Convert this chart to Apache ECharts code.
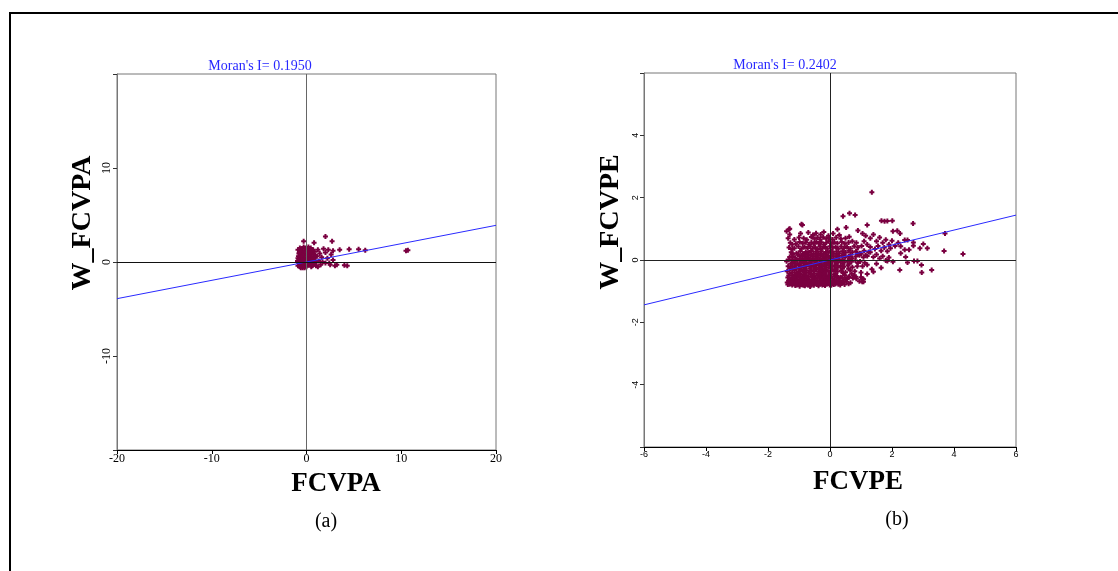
<!DOCTYPE html>
<html>
<head>
<meta charset="utf-8">
<script src="https://cdn.jsdelivr.net/npm/echarts@6/dist/echarts.min.js"></script>
<style>
  html, body { margin: 0; padding: 0; background: #fff; }
  #chart { width: 1118px; height: 571px; }
</style>
</head>
<body>
<div id="chart"></div>
<script>
// (a) FCVPA vs spatial lag
const pointsA = [
  [-0.9,-0.4],[-0.8,0.2],[-0.7,-0.5],[-0.6,0.8],[-0.5,-0.2],[-0.4,1.2],[-0.3,0.4],[-0.2,-0.6],[-0.1,1.5],[0,0.0],
  [0.1,0.9],[0.2,-0.3],[0.3,1.3],[0.4,0.5],[0.5,-0.5],[0.6,1.0],[0.7,0.2],[0.8,-0.2],[0.9,0.7],[1.0,-0.4],
  [-0.85,0.6],[-0.75,1.0],[-0.65,0.1],[-0.55,1.4],[-0.45,0.3],[-0.35,-0.4],[-0.25,0.9],[-0.15,0.2],[-0.05,-0.3],[0.05,1.2],
  [0.15,0.5],[0.25,-0.1],[0.35,0.8],[0.45,1.5],[0.55,0.3],[0.65,-0.1],[0.75,0.6],[0.85,1.1],[0.95,0.1],
  [-0.9,1.3],[-0.8,-0.1],[-0.7,0.5],[-0.6,-0.3],[-0.5,0.6],[-0.4,0.0],[-0.3,1.6],[-0.2,0.7],[-0.1,0.3],[0,-0.5],
  [0.1,0.4],[0.2,1.0],[0.3,-0.2],[0.4,0.0],[0.5,0.9],[0.6,0.4],[0.7,1.3],[0.8,0.4],[0.9,-0.1],
  [-0.95,0.1],[-0.6,1.1],[-0.3,-0.1],[0.0,0.7],[0.3,0.2],[0.6,-0.4],[-0.7,1.5],[0.2,1.6],[-0.4,-0.6],[0.5,1.3],
  [-0.8,0.9],[-0.5,0.2],[-0.2,1.1],[0.1,-0.1],[0.4,1.0],[0.7,-0.3],[-0.6,-0.6],[0.0,1.3],[0.8,0.8],[-0.9,0.4],
  [1.2,1.3],[1.4,0.9],[1.6,0.5],[1.3,0.1],[1.5,-0.3],[1.8,1.4],[2.0,1.0],[2.2,0.4],[2.0,-0.1],[2.3,1.3],
  [2.6,0.8],[2.5,-0.3],[2.8,0.2],[3.0,-0.4],[3.2,-0.3],[2.8,1.2],[1.1,0.6],[1.7,0.0],[2.4,-0.1],[1.2,-0.5],
  [2.0,2.7],[2.7,2.2],[0.8,2.05],[-0.3,2.2],[3.5,1.3],[4.5,1.35],[5.5,1.35],[6.2,1.25],[10.5,1.2],[10.7,1.25],
  [4.0,-0.35],[4.3,-0.4]
];
const fitA = [[-20, -3.9], [20, 3.9]];
const ticksA = [-20, -10, 0, 10, 20];

// (b) FCVPE vs spatial lag
const pointsB = [
  // lower band
  [-1.38,-0.72],[-1.33,-0.66],[-1.3,-0.78],[-1.27,-0.7],[-1.24,-0.62],[-1.22,-0.8],[-1.18,-0.74],[-1.15,-0.67],[-1.12,-0.82],[-1.1,-0.71],
  [-1.07,-0.64],[-1.04,-0.77],[-1.01,-0.69],[-0.98,-0.84],[-0.95,-0.73],[-0.92,-0.63],[-0.9,-0.79],[-0.87,-0.7],[-0.84,-0.66],[-0.81,-0.83],
  [-0.78,-0.75],[-0.75,-0.68],[-0.72,-0.8],[-0.7,-0.62],[-0.67,-0.72],[-0.64,-0.85],[-0.61,-0.69],[-0.58,-0.77],[-0.55,-0.64],[-0.52,-0.81],
  [-0.49,-0.73],[-0.46,-0.67],[-0.43,-0.79],[-0.4,-0.7],[-0.37,-0.83],[-0.34,-0.65],[-0.31,-0.76],[-0.28,-0.71],[-0.25,-0.8],[-0.22,-0.66],
  [-0.19,-0.74],[-0.16,-0.82],[-0.13,-0.69],[-0.1,-0.77],[-0.07,-0.63],[-0.04,-0.72],[-0.01,-0.8],[0.02,-0.68],[0.05,-0.76],[0.08,-0.71],
  [0.12,-0.79],[0.15,-0.65],[0.19,-0.74],[0.23,-0.7],[0.27,-0.78],[0.31,-0.67],[0.36,-0.75],[0.41,-0.72],[0.47,-0.79],[0.53,-0.7],
  [0.6,-0.76],[0.66,-0.73],
  [-1.36,-0.79],[-1.31,-0.7],[-1.26,-0.75],[-1.2,-0.68],[-1.14,-0.76],[-1.08,-0.8],[-1.03,-0.72],[-0.97,-0.67],[-0.93,-0.76],[-0.86,-0.81],
  [-0.8,-0.7],[-0.74,-0.77],[-0.68,-0.66],[-0.62,-0.8],[-0.56,-0.72],[-0.5,-0.68],[-0.44,-0.75],[-0.38,-0.78],[-0.32,-0.69],[-0.26,-0.74],
  [-0.2,-0.79],[-0.14,-0.73],[-0.08,-0.68],[-0.02,-0.75],[0.04,-0.81],[0.1,-0.69],[0.17,-0.77],[0.25,-0.73],[0.33,-0.8],[0.44,-0.68],
  // vertical streaks
  [-1.22,0.2],[-1.21,0.1],[-1.22,0.0],[-1.21,-0.1],[-1.22,-0.2],[-1.21,-0.3],[-1.22,-0.4],[-1.21,-0.5],[-1.22,-0.58],[-1.21,0.35],[-1.22,0.5],
  [-0.82,-0.2],[-0.83,-0.3],[-0.82,-0.4],[-0.83,-0.5],[-0.82,-0.58],[-0.83,-0.1],[-0.82,0.05],
  [-0.26,-0.3],[-0.25,-0.4],[-0.26,-0.5],[-0.25,-0.58],[-0.26,-0.2],
  // main body
  [-1.3,0.82],[-0.95,0.85],[-0.7,0.88],[-0.55,0.8],[-0.45,0.86],[-0.3,0.82],[-0.2,0.9],[-0.05,0.78],[0.1,0.85],[0.3,0.8],
  [-1.35,0.7],[-1.15,0.66],[-1.0,0.72],[-0.85,0.7],[-0.75,0.65],[-0.6,0.74],[-0.5,0.68],[-0.4,0.72],[-0.32,0.66],[-0.22,0.73],
  [-0.12,0.68],[-0.03,0.71],[0.08,0.66],[0.2,0.72],[0.35,0.68],[0.5,0.7],[0.62,0.75],
  [-1.28,0.55],[-1.1,0.52],[-0.98,0.58],[-0.88,0.53],[-0.78,0.57],[-0.68,0.5],[-0.6,0.56],[-0.52,0.52],[-0.44,0.58],[-0.36,0.53],
  [-0.28,0.57],[-0.2,0.5],[-0.12,0.55],[-0.04,0.6],[0.05,0.52],[0.14,0.57],[0.24,0.54],[0.38,0.58],[0.48,0.52],[0.6,0.56],[0.72,0.6],[0.85,0.55],
  [-1.32,0.4],[-1.15,0.38],[-1.02,0.43],[-0.92,0.36],[-0.82,0.42],[-0.72,0.38],[-0.64,0.44],[-0.56,0.37],[-0.48,0.41],[-0.4,0.35],
  [-0.32,0.43],[-0.24,0.38],[-0.16,0.42],[-0.08,0.36],[0.0,0.44],[0.09,0.39],[0.18,0.42],[0.27,0.36],[0.36,0.43],[0.45,0.38],
  [0.55,0.42],[0.66,0.37],[0.78,0.44],[0.9,0.4],[1.02,0.45],
  [-1.25,0.25],[-1.08,0.22],[-0.96,0.28],[-0.87,0.2],[-0.78,0.26],[-0.69,0.23],[-0.61,0.29],[-0.53,0.21],[-0.45,0.27],[-0.37,0.22],
  [-0.29,0.28],[-0.21,0.2],[-0.13,0.26],[-0.05,0.23],[0.04,0.29],[0.12,0.21],[0.21,0.27],[0.3,0.22],[0.4,0.28],[0.5,0.24],
  [0.61,0.3],[0.72,0.25],[0.84,0.28],[0.96,0.22],[1.1,0.3],[1.25,0.26],
  [-1.3,0.1],[-1.12,0.07],[-0.99,0.13],[-0.9,0.05],[-0.8,0.11],[-0.71,0.08],[-0.63,0.14],[-0.55,0.06],[-0.47,0.12],[-0.39,0.08],
  [-0.31,0.14],[-0.23,0.05],[-0.15,0.1],[-0.06,0.07],[0.03,0.13],[0.11,0.06],[0.2,0.12],[0.29,0.08],[0.39,0.14],[0.49,0.09],
  [0.6,0.12],[0.71,0.06],[0.83,0.11],[0.95,0.15],[1.08,0.09],[1.2,0.13],
  [-1.4,-0.04],[-1.18,-0.06],[-1.05,-0.02],[-0.94,-0.08],[-0.85,-0.03],[-0.76,-0.07],[-0.67,-0.01],[-0.59,-0.06],[-0.5,-0.03],[-0.42,-0.08],
  [-0.34,-0.02],[-0.27,-0.06],[-0.18,-0.04],[-0.1,-0.08],[-0.02,-0.03],[0.07,-0.06],[0.16,-0.02],[0.25,-0.07],[0.35,-0.04],[0.46,-0.08],
  [0.57,-0.03],[0.69,-0.06],[0.82,-0.02],[0.97,-0.05],[1.12,-0.09],
  [-1.35,-0.2],[-1.15,-0.22],[-1.02,-0.17],[-0.93,-0.23],[-0.86,-0.18],[-0.77,-0.21],[-0.68,-0.16],[-0.6,-0.22],[-0.52,-0.19],[-0.44,-0.24],
  [-0.36,-0.17],[-0.3,-0.21],[-0.19,-0.18],[-0.11,-0.23],[-0.03,-0.17],[0.06,-0.21],[0.15,-0.18],[0.24,-0.24],[0.34,-0.19],[0.45,-0.22],
  [0.58,-0.17],[0.72,-0.23],[0.88,-0.2],
  [-1.38,-0.36],[-1.14,-0.33],[-1.02,-0.38],[-0.94,-0.32],[-0.86,-0.37],[-0.76,-0.34],[-0.68,-0.39],[-0.6,-0.33],[-0.53,-0.36],[-0.45,-0.31],
  [-0.37,-0.38],[-0.29,-0.34],[-0.2,-0.37],[-0.12,-0.32],[-0.04,-0.38],[0.05,-0.35],[0.14,-0.31],[0.24,-0.37],[0.36,-0.34],[0.5,-0.39],
  [0.65,-0.33],[0.8,-0.36],
  [-1.33,-0.5],[-1.14,-0.48],[-1.04,-0.53],[-0.95,-0.47],[-0.87,-0.52],[-0.78,-0.49],[-0.7,-0.54],[-0.62,-0.47],[-0.54,-0.51],[-0.46,-0.55],
  [-0.38,-0.48],[-0.3,-0.52],[-0.21,-0.46],[-0.13,-0.53],[-0.05,-0.49],[0.04,-0.54],[0.13,-0.47],[0.23,-0.51],[0.35,-0.55],[0.48,-0.49],
  [0.62,-0.53],[0.78,-0.5],[1.0,-0.55],
  [-1.3,-0.6],[-1.1,-0.58],[-0.9,-0.61],[-0.72,-0.59],[-0.48,-0.6],[-0.3,-0.58],[-0.1,-0.61],[0.08,-0.59],[0.28,-0.6],[0.5,-0.62],
  [0.74,-0.58],[1.05,-0.6],[1.08,-0.7],
  // in-between rows (lower, denser part)
  [-1.2,0.17],[-1.03,0.18],[-0.88,0.16],[-0.74,0.18],[-0.59,0.16],[-0.43,0.18],[-0.27,0.17],[-0.11,0.16],[0.07,0.18],[0.25,0.16],[0.45,0.18],[0.66,0.17],[0.9,0.18],
  [-1.33,0.02],[-1.1,0.01],[-0.96,0.03],[-0.81,0.02],[-0.64,0.01],[-0.47,0.03],[-0.3,0.02],[-0.13,0.01],[0.04,0.03],[0.22,0.01],[0.41,0.02],[0.63,0.03],
  [-1.27,-0.12],[-1.1,-0.13],[-0.97,-0.11],[-0.79,-0.13],[-0.63,-0.12],[-0.47,-0.11],[-0.31,-0.13],[-0.15,-0.12],[0.02,-0.11],[0.2,-0.13],[0.4,-0.12],[0.62,-0.12],
  [-1.29,-0.27],[-1.09,-0.28],[-0.97,-0.26],[-0.8,-0.28],[-0.64,-0.27],[-0.48,-0.26],[-0.33,-0.28],[-0.16,-0.27],[0.01,-0.26],[0.19,-0.28],[0.4,-0.27],[0.6,-0.28],
  [-1.3,-0.43],[-1.08,-0.42],[-0.98,-0.44],[-0.8,-0.43],[-0.65,-0.42],[-0.5,-0.44],[-0.34,-0.43],[-0.17,-0.42],[0.0,-0.44],[0.18,-0.43],[0.42,-0.42],[0.7,-0.44],
  [-1.36,-0.56],[-1.17,-0.57],[-0.99,-0.56],[-0.76,-0.57],[-0.58,-0.56],[-0.4,-0.57],[-0.18,-0.56],[0.0,-0.57],[0.2,-0.56],[0.4,-0.57],[0.6,-0.56],
  [-1.3,1.0],[-1.4,0.92],[-0.89,1.12],[-0.92,1.15],[-1.32,0.99],
  // right side, sparser
  [0.24,0.99],[0.52,1.04],[0.42,1.4],[0.63,1.5],[0.81,1.44],[1.2,1.12],[1.35,2.17],[0.9,0.95],[1.05,0.85],[1.15,0.78],
  [1.3,0.7],[1.4,0.82],[1.5,0.6],[1.6,0.72],[1.7,0.55],[1.8,0.65],[1.9,0.5],[2.0,0.62],[1.1,0.6],[1.2,0.5],
  [1.3,0.42],[1.45,0.35],[1.55,0.45],[1.65,0.3],[1.75,0.4],[1.85,0.28],[1.95,0.38],[2.1,0.45],[2.2,0.55],[1.0,0.2],
  [1.15,0.15],[1.3,0.25],[1.4,0.1],[1.5,0.18],[1.6,0.05],[1.7,0.12],[1.8,-0.02],[1.9,0.08],[0.9,-0.1],[1.05,-0.2],
  [1.2,-0.15],[1.35,-0.3],[1.5,-0.12],[1.65,-0.25],[1.0,-0.4],[1.2,-0.45],[1.4,-0.38],[0.85,-0.6],[0.95,-0.68],[1.08,-0.62],
  [1.66,1.26],[1.76,1.24],[1.85,1.25],[2.01,1.26],[2.03,0.92],[2.26,0.85],[3.71,0.85],[3.68,0.29],[4.29,0.19],[2.25,-0.32],
  [2.96,-0.4],[3.28,-0.32],[2.95,-0.16],[3.01,0.51],[3.14,0.38],[2.9,0.38],[2.71,-0.03],[2.82,-0.03],[2.5,-0.08],[2.44,0.1],
  [2.28,0.44],[2.41,0.64],[2.5,0.64],[2.69,0.56],[2.69,0.46],[2.55,0.33],[2.41,0.33],[2.28,0.22],[1.85,-0.03],[2.03,-0.06],
  [2.68,1.17],[2.17,0.94],[0.83,-0.54],[1.04,-0.7],[0.55,-0.6]
];
const fitB = [[-6, -1.44], [6, 1.44]];
const ticksB = [-6, -4, -2, 0, 2, 4, 6];

const titleA = "Moran's I= 0.1950";
const titleB = "Moran's I= 0.2402";

const serif = '"Liberation Serif", "Times New Roman", serif';
const plus = 'path://M1.5,0H3.5V1.5H5V3.5H3.5V5H1.5V3.5H0V1.5H1.5Z';
const dotColor = '#7a0040';

const chart = echarts.init(document.getElementById('chart'));

function xAxisFor(idx, ticks, labelStyle) {
  return {
    type: 'value', gridIndex: idx,
    min: ticks[0], max: ticks[ticks.length - 1], interval: ticks[1] - ticks[0],
    axisLine: { show: true, onZero: false, lineStyle: { color: '#000', width: 1 } },
    axisTick: { show: true, inside: false, length: 4, lineStyle: { color: '#000' } },
    axisLabel: Object.assign({ color: '#000', margin: 3 }, labelStyle),
    splitLine: { show: false }
  };
}

function yAxisFor(idx, ticks, labelStyle) {
  const lo = ticks[0], hi = ticks[ticks.length - 1];
  return {
    type: 'value', gridIndex: idx,
    min: lo, max: hi, interval: ticks[1] - ticks[0],
    axisLine: { show: true, onZero: false, lineStyle: { color: '#777', width: 1 } },
    axisTick: { show: true, inside: false, length: 4, lineStyle: { color: '#333' } },
    axisLabel: Object.assign({
      color: '#000', rotate: 90, margin: 4,
      formatter: v => (v === lo || v === hi) ? '' : String(v)
    }, labelStyle),
    splitLine: { show: false }
  };
}

function quadLines(vColor, hColor) {
  return {
    silent: true, symbol: 'none', animation: false,
    label: { show: false },
    data: [
      { xAxis: 0, lineStyle: { color: vColor, width: 1, type: 'solid' } },
      { yAxis: 0, lineStyle: { color: hColor, width: 1, type: 'solid' } }
    ]
  };
}

const option = {
  animation: false,
  backgroundColor: '#fff',
  title: [
    { text: titleA, left: 255, top: 54, textAlign: 'center',
      textStyle: { color: '#2828ff', fontFamily: serif, fontSize: 14, fontWeight: 'normal' } },
    { text: titleB, left: 780, top: 53, textAlign: 'center',
      textStyle: { color: '#2828ff', fontFamily: serif, fontSize: 14, fontWeight: 'normal' } }
  ],
  grid: [
    { left: 117, top: 74, width: 379, height: 376, show: true, borderColor: '#777', borderWidth: 1 },
    { left: 644, top: 73, width: 372, height: 374, show: true, borderColor: '#777', borderWidth: 1 }
  ],
  xAxis: [
    xAxisFor(0, ticksA, { fontFamily: serif, fontSize: 12 }),
    xAxisFor(1, ticksB, { fontFamily: '"Liberation Sans", Arial, sans-serif', fontSize: 9 })
  ],
  yAxis: [
    yAxisFor(0, ticksA, { fontFamily: serif, fontSize: 12 }),
    yAxisFor(1, ticksB, { fontFamily: '"Liberation Sans", Arial, sans-serif', fontSize: 9 })
  ],
  series: [
    {
      type: 'scatter', xAxisIndex: 0, yAxisIndex: 0, data: pointsA,
      symbol: plus, symbolSize: 5, itemStyle: { color: dotColor, opacity: 1 },
      markLine: quadLines('#666', '#111'), z: 3
    },
    {
      type: 'line', xAxisIndex: 0, yAxisIndex: 0, data: fitA,
      showSymbol: false, lineStyle: { color: '#2a2aff', width: 1 }, z: 4
    },
    {
      type: 'scatter', xAxisIndex: 1, yAxisIndex: 1, data: pointsB,
      symbol: plus, symbolSize: 5, itemStyle: { color: dotColor, opacity: 1 },
      markLine: quadLines('#222', '#222'), z: 3
    },
    {
      type: 'line', xAxisIndex: 1, yAxisIndex: 1, data: fitB,
      showSymbol: false, lineStyle: { color: '#2a2aff', width: 1 }, z: 4
    }
  ],
  graphic: [
    { type: 'rect', shape: { x: 10, y: 13, width: 1130, height: 600 },
      style: { fill: null, stroke: '#000', lineWidth: 2 }, silent: true },
    { type: 'text', x: 83, y: 223, rotation: Math.PI / 2,
      style: { text: 'W_FCVPA', font: 'bold 28px ' + serif, fill: '#000', textAlign: 'center', textVerticalAlign: 'middle' } },
    { type: 'text', x: 611, y: 222, rotation: Math.PI / 2,
      style: { text: 'W_FCVPE', font: 'bold 28px ' + serif, fill: '#000', textAlign: 'center', textVerticalAlign: 'middle' } },
    { type: 'text', x: 336, y: 484,
      style: { text: 'FCVPA', font: 'bold 27px ' + serif, fill: '#000', textAlign: 'center', textVerticalAlign: 'middle' } },
    { type: 'text', x: 858, y: 482,
      style: { text: 'FCVPE', font: 'bold 27px ' + serif, fill: '#000', textAlign: 'center', textVerticalAlign: 'middle' } },
    { type: 'text', x: 326, y: 522,
      style: { text: '(a)', font: '20px ' + serif, fill: '#000', textAlign: 'center', textVerticalAlign: 'middle' } },
    { type: 'text', x: 897, y: 520,
      style: { text: '(b)', font: '20px ' + serif, fill: '#000', textAlign: 'center', textVerticalAlign: 'middle' } }
  ]
};

chart.setOption(option);
</script>
</body>
</html>
